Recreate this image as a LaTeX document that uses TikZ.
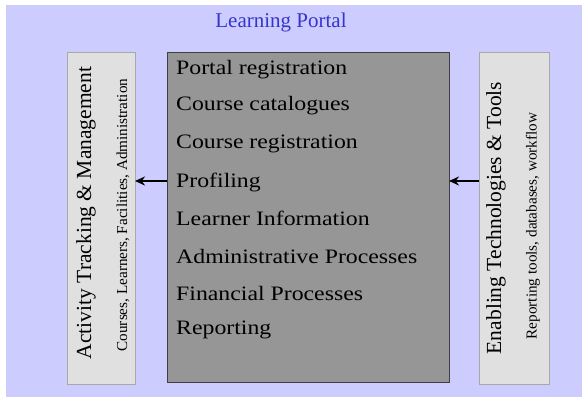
\documentclass[tikz,border=0pt]{standalone}
\usepackage{fontspec}
\setmainfont{Liberation Serif}
\newfontfamily\widefont[FakeStretch=1.16]{Liberation Serif}
\usetikzlibrary{arrows.meta}
\definecolor{lav}{HTML}{CCCCFF}
\definecolor{sidefill}{HTML}{E0E0E0}
\definecolor{sideline}{HTML}{A8A8A8}
\definecolor{midfill}{HTML}{969696}
\definecolor{midline}{HTML}{404040}
\definecolor{titleblue}{HTML}{3535CC}
\begin{document}
\begin{tikzpicture}[x=1pt,y=-1pt,
  sidebox/.style={draw=sideline,fill=sidefill,line width=1pt},
  midbox/.style={draw=midline,fill=midfill,line width=1pt},
  item/.style={anchor=west,inner sep=0pt,font=\widefont\fontsize{20.5}{22}\selectfont},
  vmain/.style={rotate=90,inner sep=0pt,font=\fontsize{21.5}{24}\selectfont},
  vsub/.style={rotate=90,inner sep=0pt,font=\fontsize{15.2}{17}\selectfont},
  conn/.style={-{Stealth[length=10pt,width=9pt]},line width=1.8pt}]
\useasboundingbox (0,0) rectangle (582,397);
\fill[white] (0,0) rectangle (582,397);
\fill[lav] (6,5) rectangle (582,397);
\node[text=titleblue,font=\fontsize{21}{24}\selectfont] (title) at (281,22) {Learning Portal};
% boxes
\draw[sidebox] (67,52) rectangle (135,384);
\coordinate (lboxE) at (135,181);
\draw[midbox] (167,52) rectangle (449,382);
\coordinate (midW) at (167,181);
\coordinate (midE) at (449,181);
\draw[sidebox] (479,52) rectangle (549,384);
\coordinate (rboxW) at (479,181);
% left texts
\node[vmain] (lt1) at (86,213) {Activity Tracking \& Management};
\node[vsub] (lt2) at (123,215) {Courses, Learners, Facilities, Administration};
% right texts
\node[vmain] (rt1) at (496,218) {Enabling Technologies \& Tools};
\node[vsub] (rt2) at (533,226) {Reporting tools, databases, workflow};
% items
\node[item] (i1) at (176,70) {Portal registration};
\node[item] (i2) at (176,106) {Course catalogues};
\node[item] (i3) at (176,144) {Course registration};
\node[item] (i4) at (176,182) {Profiling};
\node[item] (i5) at (176,218) {Learner Information};
\node[item] (i6) at (176,256) {Administrative Processes};
\node[item] (i7) at (176,293) {Financial Processes};
\node[item] (i8) at (176,330) {Reporting};
% arrows
\draw[conn] (midW) -- (lboxE);
\draw[conn] (rboxW) -- (midE);
\end{tikzpicture}
\end{document}
